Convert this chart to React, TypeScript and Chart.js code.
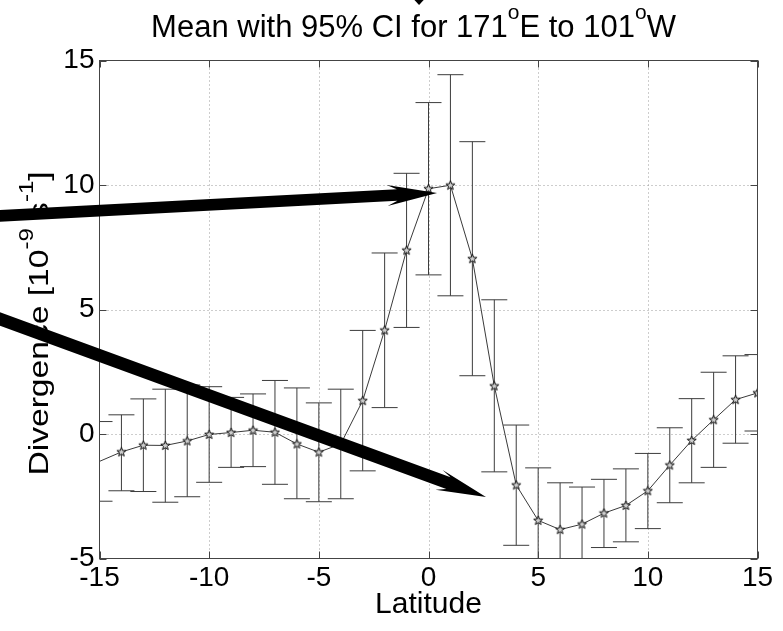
import React, { useEffect, useRef } from "react";
import { Chart, registerables } from "chart.js";
Chart.register(...registerables);

// ---------- data ----------
const latitudes = [-15, -14, -13, -12, -11, -10, -9, -8, -7, -6, -5, -4, -3, -2, -1, 0, 1, 2, 3, 4, 5, 6, 7, 8, 9, 10, 11, 12, 13, 14, 15];
const meanDivergence = [-1.1, -0.72, -0.45, -0.46, -0.28, -0.02, 0.06, 0.15, 0.07, -0.4, -0.73, -0.4, 1.34, 4.17, 7.38, 9.85, 9.99, 7.04, 1.93, -2.05, -3.47, -3.84, -3.62, -3.18, -2.87, -2.28, -1.25, -0.26, 0.57, 1.38, 1.65];
const ciUpper = [0.5, 0.77, 1.41, 1.8, 1.97, 1.9, 1.47, 1.61, 2.15, 1.85, 1.25, 1.8, 4.16, 7.27, 10.47, 13.31, 14.43, 11.74, 5.39, 0.36, -1.36, -1.96, -2.13, -1.82, -1.4, -0.78, 0.25, 1.42, 2.48, 3.14, 3.19];
const ciLower = [-2.7, -2.28, -2.31, -2.74, -2.52, -1.94, -1.34, -1.31, -2.02, -2.6, -2.72, -2.6, -1.48, 1.06, 4.28, 6.39, 5.55, 2.34, -1.52, -4.47, -5.58, -5.72, -5.11, -4.56, -4.33, -3.8, -2.76, -1.96, -1.34, -0.37, 0.12];
const xTickValues = [-15, -10, -5, 0, 5, 10, 15];
const yTickValues = [-5, 0, 5, 10, 15];
const titleParts = [
  { t: "Mean with 95% CI for 171", sup: false },
  { t: "o", sup: true },
  { t: "E to 101", sup: false },
  { t: "o", sup: true },
  { t: "W", sup: false },
];
const yLabelParts = [
  { t: "Divergence [10", sup: false },
  { t: "-9", sup: true },
  { t: " s", sup: false },
  { t: "-1", sup: true },
  { t: "]", sup: false },
];
const xLabelText = "Latitude";
// annotation arrows (data coordinates)
const arrowStarts = [[-19.54, 8.76], [-19.54, 4.62]];
const arrowEnds = [[0.39, 9.68], [2.62, -2.53]];
const topArrowTip = [-0.43, 17.23];

const FONT = "'Liberation Sans', Arial, Helvetica, sans-serif";

type Part = { t: string; sup: boolean };

function drawRich(ctx: CanvasRenderingContext2D, parts: Part[], size: number, supSize: number, supRise: number, stretch: number) {
  const widths = parts.map((p) => {
    ctx.font = `${p.sup ? supSize : size}px ${FONT}`;
    return ctx.measureText(p.t).width;
  });
  const total = widths.reduce((a, b) => a + b, 0);
  ctx.save();
  ctx.scale(stretch, 1);
  let cx = -total / 2;
  ctx.textBaseline = "alphabetic";
  ctx.textAlign = "left";
  ctx.fillStyle = "#000";
  parts.forEach((p, i) => {
    ctx.font = `${p.sup ? supSize : size}px ${FONT}`;
    ctx.fillText(p.t, cx, p.sup ? -supRise : 0);
    cx += widths[i];
  });
  ctx.restore();
}

function makeStar(): HTMLCanvasElement {
  const c = document.createElement("canvas");
  c.width = 11;
  c.height = 11;
  const g = c.getContext("2d")!;
  const R = 4.8, r = 2.0, cx = 5.5, cy = 5.7;
  g.beginPath();
  for (let k = 0; k < 10; k++) {
    const rad = k % 2 === 0 ? R : r;
    const a = -Math.PI / 2 + (k * Math.PI) / 5;
    const px = cx + rad * Math.cos(a), py = cy + rad * Math.sin(a);
    if (k === 0) g.moveTo(px, py); else g.lineTo(px, py);
  }
  g.closePath();
  g.fillStyle = "#cfcfcf";
  g.fill();
  g.strokeStyle = "#111";
  g.lineWidth = 1;
  g.stroke();
  return c;
}

function drawArrow(ctx: CanvasRenderingContext2D, x0: number, y0: number, x1: number, y1: number, shaft: number, headLen: number, headHalf: number, neck: number) {
  const dx = x1 - x0, dy = y1 - y0;
  const L = Math.hypot(dx, dy);
  const ux = dx / L, uy = dy / L;
  const nx = -uy, ny = ux;
  const s = shaft / 2;
  const P = (a: number, b: number) => [x1 + ux * a + nx * b, y1 + uy * a + ny * b];
  const tailA = -L - 40;
  const pts = [P(tailA, s), P(-neck, s), P(-headLen, headHalf), P(0, 0), P(-headLen, -headHalf), P(-neck, -s), P(tailA, -s)];
  ctx.beginPath();
  pts.forEach((p, i) => (i === 0 ? ctx.moveTo(p[0], p[1]) : ctx.lineTo(p[0], p[1])));
  ctx.closePath();
  ctx.fillStyle = "#000";
  ctx.fill();
}

const decorPlugin = {
  id: "matlabDecor",
  beforeDatasetsDraw(chart: any) {
    const ctx: CanvasRenderingContext2D = chart.ctx;
    const a = chart.chartArea;
    const xs = chart.scales.x, ys = chart.scales.y;
    ctx.save();
    // dotted grid
    ctx.strokeStyle = "#9a9a9a";
    ctx.lineWidth = 1;
    ctx.setLineDash([1, 3]);
    xTickValues.forEach((v) => {
      if (v === xs.min || v === xs.max) return;
      const px = Math.round(xs.getPixelForValue(v)) + 0.5;
      ctx.beginPath();
      ctx.moveTo(px, a.top);
      ctx.lineTo(px, a.bottom);
      ctx.stroke();
    });
    yTickValues.forEach((v) => {
      if (v === ys.min || v === ys.max) return;
      const py = Math.round(ys.getPixelForValue(v)) + 0.5;
      ctx.beginPath();
      ctx.moveTo(a.left, py);
      ctx.lineTo(a.right, py);
      ctx.stroke();
    });
    ctx.setLineDash([]);
    // error bars
    ctx.beginPath();
    ctx.rect(a.left, a.top, a.right - a.left, a.bottom - a.top);
    ctx.clip();
    ctx.strokeStyle = "#3c3c3c";
    ctx.lineWidth = 1;
    const cap = 13;
    latitudes.forEach((lat, i) => {
      const px = xs.getPixelForValue(lat);
      const yt = ys.getPixelForValue(ciUpper[i]);
      const yb = ys.getPixelForValue(ciLower[i]);
      ctx.beginPath();
      ctx.moveTo(px, yt);
      ctx.lineTo(px, yb);
      ctx.moveTo(px - cap, yt);
      ctx.lineTo(px + cap, yt);
      ctx.moveTo(px - cap, yb);
      ctx.lineTo(px + cap, yb);
      ctx.stroke();
    });
    ctx.restore();
  },
  afterDraw(chart: any) {
    const ctx: CanvasRenderingContext2D = chart.ctx;
    const a = chart.chartArea;
    const xs = chart.scales.x, ys = chart.scales.y;
    ctx.save();
    // frame
    ctx.strokeStyle = "#444";
    ctx.lineWidth = 1;
    ctx.strokeRect(a.left, a.top, a.right - a.left, a.bottom - a.top);
    // inward tick marks
    const tl = 7;
    ctx.beginPath();
    xTickValues.forEach((v) => {
      const px = Math.round(xs.getPixelForValue(v)) + 0.5;
      ctx.moveTo(px, a.bottom);
      ctx.lineTo(px, a.bottom - tl);
      ctx.moveTo(px, a.top);
      ctx.lineTo(px, a.top + tl);
    });
    yTickValues.forEach((v) => {
      const py = Math.round(ys.getPixelForValue(v)) + 0.5;
      ctx.moveTo(a.left, py);
      ctx.lineTo(a.left + tl, py);
      ctx.moveTo(a.right, py);
      ctx.lineTo(a.right - tl, py);
    });
    ctx.stroke();

    const cxm = (a.left + a.right) / 2;
    const cym = (a.top + a.bottom) / 2;
    // title
    ctx.save();
    ctx.translate(cxm - 15, 37);
    drawRich(ctx, titleParts, 31, 21, 18, 1);
    ctx.restore();
    // x label
    ctx.save();
    ctx.translate(cxm, 613);
    drawRich(ctx, [{ t: xLabelText, sup: false }], 30, 20, 0, 1);
    ctx.restore();
    // y label
    ctx.save();
    ctx.translate(48, cym + 14);
    ctx.rotate(-Math.PI / 2);
    drawRich(ctx, yLabelParts, 28, 20, 15, 1.2);
    ctx.restore();

    // arrows
    arrowStarts.forEach((s, i) => {
      const e = arrowEnds[i];
      drawArrow(
        ctx,
        xs.getPixelForValue(s[0]), ys.getPixelForValue(s[1]),
        xs.getPixelForValue(e[0]), ys.getPixelForValue(e[1]),
        i === 0 ? 11.5 : 12.5, 50, 10.5, 40
      );
    });
    const tx = xs.getPixelForValue(topArrowTip[0]);
    const ty = ys.getPixelForValue(topArrowTip[1]);
    ctx.beginPath();
    ctx.moveTo(tx, ty);
    ctx.lineTo(tx - 6.5, ty - 7);
    ctx.lineTo(tx + 6.5, ty - 7);
    ctx.closePath();
    ctx.fillStyle = "#000";
    ctx.fill();
    ctx.restore();
  },
};

export default function App() {
  const ref = useRef<HTMLCanvasElement | null>(null);
  useEffect(() => {
    if (!ref.current) return;
    const star = makeStar();
    const chart = new Chart(ref.current, {
      type: "line",
      data: {
        datasets: [
          {
            data: latitudes.map((x, i) => ({ x, y: meanDivergence[i] })),
            borderColor: "#3a3a3a",
            borderWidth: 1,
            tension: 0,
            pointStyle: (c: any) => (c.dataIndex === 0 ? false : star),
            pointRadius: 4,
            pointHoverRadius: 4,
            fill: false,
          } as any,
        ],
      },
      options: {
        animation: false,
        responsive: false,
        devicePixelRatio: 1,
        events: [],
        layout: { padding: { left: 0, right: 25.5, top: 60.5, bottom: 0 } },
        plugins: { legend: { display: false }, tooltip: { enabled: false }, title: { display: false } },
        scales: {
          x: {
            type: "linear",
            min: -15,
            max: 15,
            afterBuildTicks: (s: any) => {
              s.ticks = xTickValues.map((v) => ({ value: v }));
            },
            afterFit: (s: any) => {
              s.height = 72.5;
            },
            ticks: { color: "#000", font: { family: FONT, size: 28 }, padding: 3, maxRotation: 0, autoSkip: false },
            grid: { display: false, drawTicks: false },
            border: { display: false },
          },
          y: {
            type: "linear",
            min: -5,
            max: 15,
            afterBuildTicks: (s: any) => {
              s.ticks = yTickValues.map((v) => ({ value: v }));
            },
            afterFit: (s: any) => {
              s.width = 99.5;
            },
            ticks: { color: "#000", font: { family: FONT, size: 28 }, padding: 5 },
            grid: { display: false, drawTicks: false },
            border: { display: false },
          },
        },
      } as any,
      plugins: [decorPlugin],
    });
    return () => chart.destroy();
  }, []);
  return (
    <div style={{ position: "fixed", left: 0, top: 0, width: 783, height: 631, background: "#fff" }}>
      <canvas ref={ref} width={783} height={631} style={{ width: 783, height: 631, display: "block" }} />
    </div>
  );
}
